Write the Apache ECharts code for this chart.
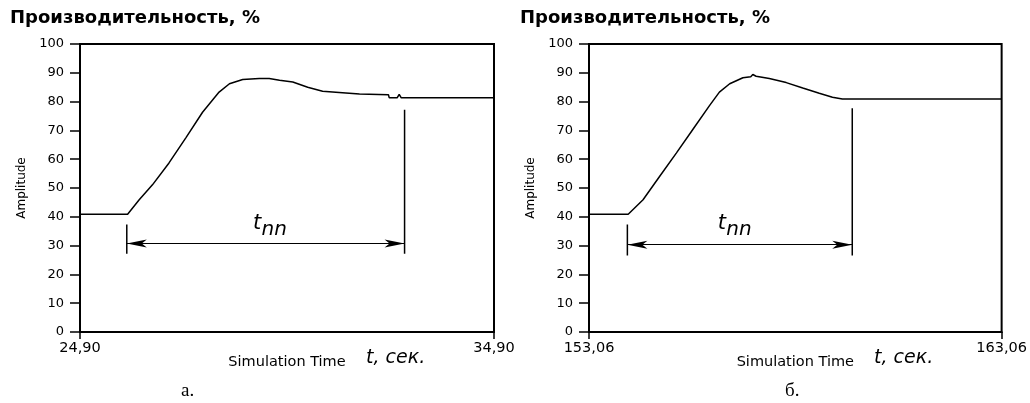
<html>
  <head>
    <meta charset="utf-8" />
    <title>Производительность</title>
    <script type="text/javascript" src="https://cdn.jsdelivr.net/npm/echarts@6/dist/echarts.min.js"></script>
  </head>
  <body style="margin:0;background:#fff;">
      <div id="main" style="width:1030px;height:403px;"></div>
      <script type="text/javascript">
        // а. — переходный процесс
        var timeA = [24.90, 26.05, 26.09, 26.33, 26.65, 27.05, 27.46, 27.86, 28.26, 28.51, 28.83, 29.23, 29.47, 29.72, 30.04, 30.40, 30.76, 31.24, 31.65, 32.35, 32.37, 32.56, 32.61, 32.66, 34.90];
        var valA  = [40.9, 40.9, 41.2, 45.9, 51.1, 58.7, 67.5, 76.3, 83.3, 86.2, 87.7, 88.0, 88.0, 87.4, 86.8, 85.0, 83.6, 83.1, 82.6, 82.4, 81.3, 81.3, 82.5, 81.3, 81.3];
        // б.
        var timeB = [153.06, 154.01, 154.05, 154.37, 154.77, 155.18, 155.58, 155.98, 156.22, 156.47, 156.79, 156.98, 157.03, 157.11, 157.43, 157.84, 158.24, 158.64, 158.96, 159.20, 163.06];
        var valB  = [40.9, 40.9, 41.4, 45.9, 54.0, 62.2, 70.4, 78.6, 83.3, 86.2, 88.3, 88.6, 89.4, 88.8, 88.0, 86.6, 84.7, 82.9, 81.5, 80.9, 80.9];

        // t_nn: начало, конец, уровень стрелки, низ/верх выносных линий, подпись
        var tnnA = { start: 26.03, end: 32.74, arrow: 30.7, low: 27.2, topL: 37.3, topR: 77.2, labelT: 29.35, labelV: 35.0 };
        var tnnB = { start: 153.99, end: 159.44, arrow: 30.3, low: 26.6, topL: 37.3, topR: 77.7, labelT: 156.45, labelV: 35.0 };

        var xRangeA = [24.90, 34.90];
        var xRangeB = [153.06, 163.06];
        var yTicks = [0, 100, 10];

        var font = 'DejaVu Sans';

        function pairs(t, v) {
            return t.map((x, i) => [x, v[i]]);
        }

        function xAxisFor(idx, range) {
            return {
                type: 'value',
                gridIndex: idx,
                min: range[0],
                max: range[1],
                name: 'Simulation Time',
                nameLocation: 'middle',
                nameGap: 23,
                nameMoveOverlap: false,
                nameTextStyle: { fontFamily: font, fontSize: 14.5, color: '#000' },
                axisLine: { lineStyle: { color: '#000', width: 2 } },
                axisTick: { customValues: range, length: 7, lineStyle: { color: '#000', width: 1.5 } },
                axisLabel: {
                    customValues: range,
                    margin: 9,
                    fontFamily: font, fontSize: 14.5, color: '#000',
                    formatter: v => v.toFixed(2).replace('.', ','),
                },
                splitLine: { show: false },
            };
        }

        function yAxisFor(idx) {
            return {
                type: 'value',
                gridIndex: idx,
                min: yTicks[0],
                max: yTicks[1],
                interval: yTicks[2],
                name: 'Amplitude',
                nameLocation: 'middle',
                nameRotate: 90,
                nameGap: 52,
                nameMoveOverlap: false,
                nameTextStyle: { fontFamily: font, fontSize: 12, color: '#000' },
                axisLine: { show: true, lineStyle: { color: '#000', width: 2 } },
                axisTick: { show: true, length: 10, lineStyle: { color: '#000', width: 1.5 } },
                axisLabel: { margin: 16, fontFamily: font, fontSize: 13, color: '#000' },
                splitLine: { show: false },
            };
        }

        function curve(idx, t, v) {
            return {
                type: 'line',
                xAxisIndex: idx,
                yAxisIndex: idx,
                data: pairs(t, v),
                showSymbol: false,
                symbol: 'none',
                lineStyle: { color: '#000', width: 1.5 },
                animation: false,
            };
        }

        function segment(idx, a, b) {
            return {
                type: 'line',
                xAxisIndex: idx,
                yAxisIndex: idx,
                data: [a, b],
                symbol: 'none',
                lineStyle: { color: '#000', width: 1.5 },
                animation: false,
                silent: true,
            };
        }

        function arrow(idx, d) {
            return {
                type: 'line',
                xAxisIndex: idx,
                yAxisIndex: idx,
                data: [],
                animation: false,
                markLine: {
                    silent: true,
                    symbol: ['arrow', 'arrow'],
                    symbolSize: [6, 20],
                    lineStyle: { color: '#000', width: 1.2, type: 'solid' },
                    label: { show: false },
                    animation: false,
                    data: [[{ coord: [d.start, d.arrow] }, { coord: [d.end, d.arrow] }]],
                },
                markPoint: {
                    silent: true,
                    symbol: 'circle',
                    symbolSize: 0,
                    animation: false,
                    data: [
                        { coord: [d.labelT, d.labelV], label: { show: true, formatter: 't', fontFamily: font, fontStyle: 'italic', fontSize: 21, color: '#000', offset: [-7, -8] } },
                        { coord: [d.labelT, d.labelV], label: { show: true, formatter: 'nn', fontFamily: font, fontStyle: 'italic', fontSize: 20, color: '#000', offset: [10, -1] } },
                    ],
                },
            };
        }

        function annotation(idx, d) {
            return [
                segment(idx, [d.start, d.low], [d.start, d.topL]),
                segment(idx, [d.end, d.low], [d.end, d.topR]),
                arrow(idx, d),
            ];
        }

        var myChart = echarts.init(document.getElementById('main'));

        var titleStyle = { fontFamily: font, fontWeight: 'bold', fontSize: 18, color: '#000' };
        var capStyle = { fontFamily: 'Liberation Serif', fontWeight: 'normal', fontSize: 19, color: '#000' };
        var unitStyle = { fontFamily: font, fontStyle: 'italic', fontWeight: 'normal', fontSize: 19, color: '#000' };

        var option = {
            backgroundColor: '#fff',
            animation: false,
            title: [
                { text: 'Производительность, %', left: 10, top: 9, textStyle: titleStyle, padding: 0 },
                { text: 'Производительность, %', left: 520, top: 9, textStyle: titleStyle, padding: 0 },
                { text: 't, сек.', left: 366, top: 349, textStyle: unitStyle, padding: 0 },
                { text: 't, сек.', left: 874, top: 349, textStyle: unitStyle, padding: 0 },
                { text: 'а.', left: 181, top: 382, textStyle: capStyle, padding: 0 },
                { text: 'б.', left: 785, top: 382, textStyle: capStyle, padding: 0 },
            ],
            grid: [
                { left: 80, top: 44, width: 414, height: 288, show: true, borderColor: '#000', borderWidth: 2 },
                { left: 589, top: 44, width: 414, height: 288, show: true, borderColor: '#000', borderWidth: 2 },
            ],
            xAxis: [xAxisFor(0, xRangeA), xAxisFor(1, xRangeB)],
            yAxis: [yAxisFor(0), yAxisFor(1)],
            series: [
                curve(0, timeA, valA),
                curve(1, timeB, valB),
            ].concat(annotation(0, tnnA), annotation(1, tnnB)),
        };
        myChart.setOption(option);
      </script>
  </body>
</html>
